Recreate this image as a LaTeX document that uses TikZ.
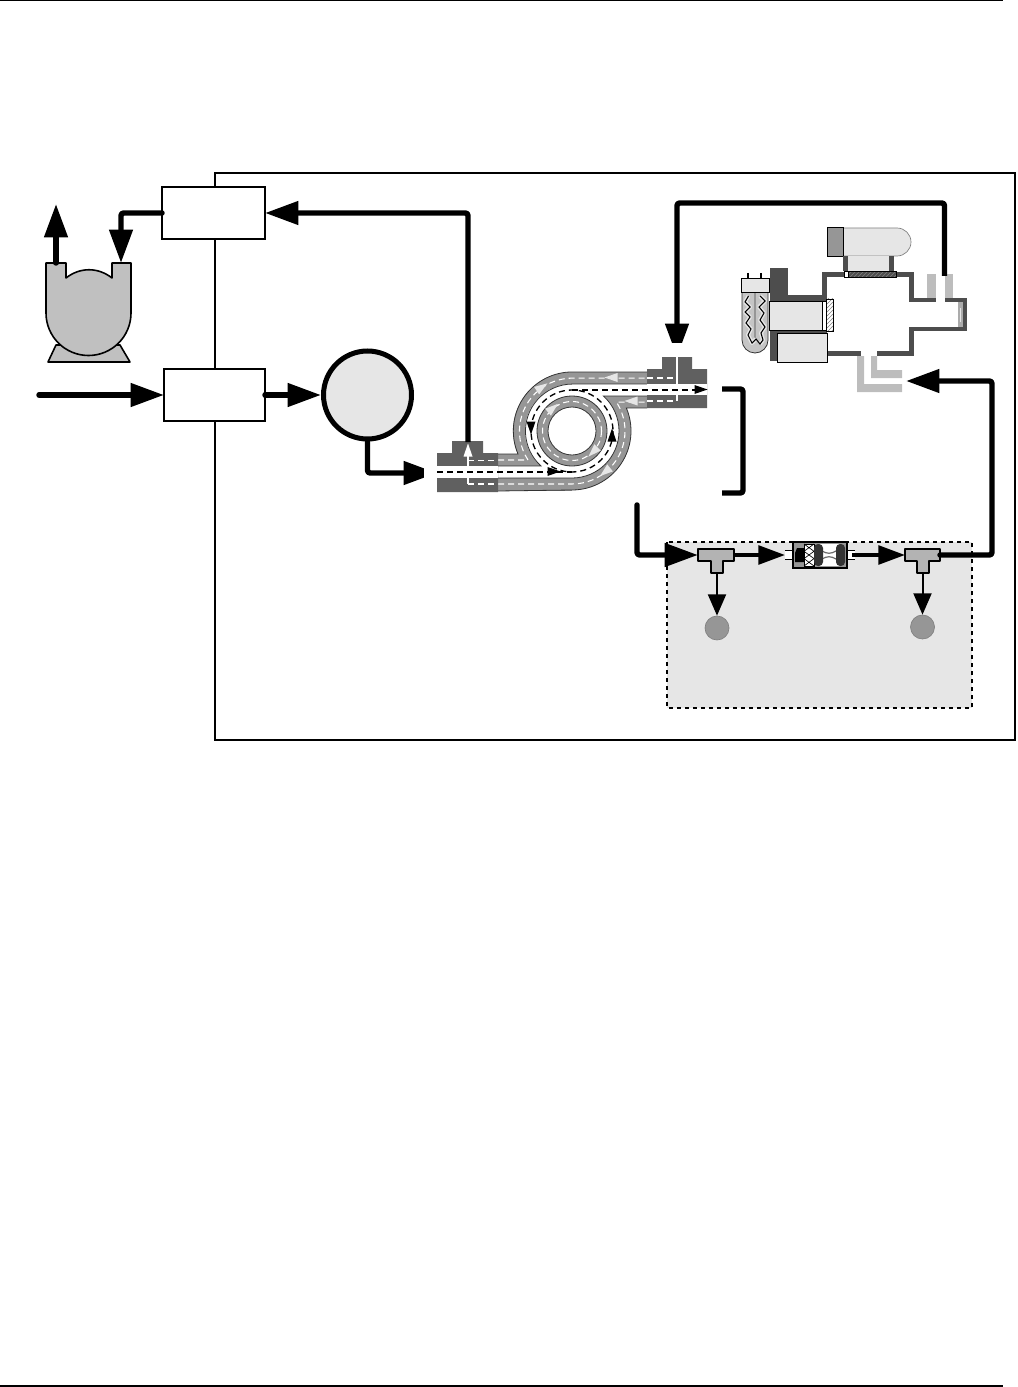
\documentclass[tikz,border=0pt]{standalone}
\usetikzlibrary{arrows.meta,patterns}
\definecolor{lt}{HTML}{E6E6E6}
\definecolor{pumpg}{HTML}{C0C0C0}
\definecolor{coilg}{HTML}{969696}
\definecolor{fitg}{HTML}{606060}
\definecolor{wallg}{HTML}{4D4D4D}
\definecolor{stubg}{HTML}{BDBDBD}
\definecolor{tg}{HTML}{B3B3B3}
\definecolor{edgeg}{HTML}{333333}
\tikzset{
  pipe/.style={line width=4.1pt,line join=round,rounded corners=2pt,line cap=round},
  bighead/.style={-{Triangle[length=25pt,width=17pt]}},
  midhead/.style={-{Triangle[length=20pt,width=14pt]}},
  boxn/.style={draw,fill=white,line width=1.1pt,inner sep=0pt,outer sep=0pt},
  outl/.style={draw=edgeg,line width=.6pt},
  thin pipe/.style={line width=2.8pt,line join=round},
  wdash/.style={draw=white,line width=.8pt,dash pattern=on 4.5pt off 3pt},
  kdash/.style={draw=black,line width=1pt,dash pattern=on 4.5pt off 3pt},
  hatchbox/.style={draw=black,line width=.6pt,pattern=north east lines,pattern color=gray},
}
\newcommand{\flowtip}[4]{\fill[#4,shift={(#1,#2)},rotate=#3] (6.5,0)--(-6.5,4.5)--(-6.5,-4.5)--cycle;}
\begin{document}
\begin{tikzpicture}[x=0.75pt,y=-0.75pt]
\useasboundingbox (0,0) rectangle (1017,1387);
% page rules
\coordinate (ruleTL) at (0,0.6); \coordinate (ruleTR) at (1003,0.6);
\coordinate (ruleBL) at (0,1386); \coordinate (ruleBR) at (1003,1386);
\draw[line width=1.1pt] (ruleTL) -- (ruleTR);
\draw[line width=1.1pt] (ruleBL) -- (ruleBR);
% frame
\draw[line width=1.3pt] (215,173) rectangle (1015,740);
% shaded dashed area
\draw[fill=lt,dashed,line width=.8pt] (667,542) rectangle (972,708);
% boxes
\node[boxn,minimum width=77.25pt,minimum height=39pt] (boxA) at (213.5,213) {};
\node[boxn,minimum width=75.75pt,minimum height=39pt] (boxB) at (214.5,395) {};
% main circle
\node[draw,fill=lt,circle,line width=3.75pt,minimum size=66pt,inner sep=0pt] (ball) at (367.5,395) {};
% pump
\draw[fill=pumpg,line width=1.2pt,line join=round] (56,345) -- (48,362) -- (130,362) -- (120,345) -- cycle;
\draw[fill=pumpg,line width=1.2pt,line join=round] (46,263) -- (66,263) -- (66,278) .. controls (80,267) and (98,267) .. (112,278) -- (112,263) -- (131,263) -- (131,313) arc (0:180:42.5) -- cycle;
\coordinate (pumpOut) at (56,263); \coordinate (pumpOutTip) at (56,204);
\coordinate (pumpIn) at (121,263); \coordinate (elbowA) at (121,213);
% COIL
\begin{scope}
\fill[coilg] (498,454) rectangle (572,491);
\fill[coilg] (572,372) rectangle (647,408);
\fill[coilg] (572,431) circle[radius=59];
\fill[white] (572,431) circle[radius=47];
\fill[white] (498,466) rectangle (572,478);
\fill[white] (572,384) rectangle (707,396);
\draw[outl] (498,491) -- (572,490) arc (90:-23:59) -- (647,408);
\draw[outl] (498,454) -- (518,454) arc (157:270:59) -- (647,372);
\draw[outl] (498,466) -- (541,466) arc (132:270:47) -- (647,384);
\draw[outl] (498,478) -- (572,478) arc (90:-48:47) -- (647,396);
\draw[outl,fill=coilg] (572,431) circle[radius=35];
\draw[outl,fill=white] (572,431) circle[radius=24];
\draw[wdash] (572,431) circle[radius=29.5];
\draw[wdash] (468,484) -- (572,484) arc (90:-33:53) -- (677,402);
\draw[wdash] (468,460) -- (528,460) arc (147:270:53) -- (677,378);
\end{scope}
% fittings
\fill[fitg] (437,453) -- (452,453) -- (452,441) -- (483,441) -- (483,453) -- (498,453) -- (498,492) -- (437,492) -- cycle;
\fill[white] (437,466) rectangle (498,478);
\fill[fitg] (647,369) -- (662,369) -- (662,357) -- (692,357) -- (692,369) -- (707,369) -- (707,408) -- (647,408) -- cycle;
\fill[white] (647,383.5) rectangle (707,395);
\draw[white,line width=.8pt] (468,455) -- (468,466);
\draw[white,line width=.8pt] (468,478) -- (468,484);
\draw[wdash] (468,460.5) -- (498,460.5);
\draw[wdash] (468,484) -- (498,484);
\draw[white,line width=.8pt] (677,357) -- (677,384);
\draw[white,line width=.8pt] (677,395) -- (677,401);
\draw[wdash] (647,378) -- (677,378);
\draw[wdash] (647,401) -- (677,401);
% black dashed centre line
\draw[kdash] (437,472) -- (572,472);
\draw[kdash] (572,431) circle[radius=41];
\draw[kdash] (572,390) -- (700,390);
% flow tips
\flowtip{554}{471.5}{0}{black}
\flowtip{531}{428}{270}{black}
\flowtip{612}{435}{90}{black}
\flowtip{701}{389.5}{0}{black}
\flowtip{468}{450}{90}{white}
\flowtip{611}{377.5}{180}{lt}
\flowtip{631}{401}{180}{lt}
\flowtip{542}{387}{34}{lt}
\flowtip{605}{472}{219}{lt}
\flowtip{553}{408}{40}{lt}
\flowtip{593}{452}{225}{lt}
% bracket
\coordinate (brA) at (722,389); \coordinate (brB) at (743,389);
\coordinate (brC) at (743,493); \coordinate (brD) at (722,493);
\draw[pipe,line cap=butt] (brA) -- (brB) -- (brC) -- (brD);
% T fittings
\draw[fill=tg,line width=1.5pt,line join=round] (698,549) -- (734,549) -- (734,561) -- (723,561) -- (723,573) -- (711,573) -- (711,561) -- (698,561) -- cycle;
\draw[fill=tg,line width=1.5pt,line join=round] (905,549) -- (940,549) -- (940,561) -- (929,561) -- (929,573) -- (917,573) -- (917,561) -- (905,561) -- cycle;
\coordinate (tlW) at (698,555); \coordinate (tlE) at (734,555); \coordinate (tlS) at (717,573);
\coordinate (trW) at (905,555); \coordinate (trE) at (940,555); \coordinate (trS) at (922.5,573);
% small vessels
\node[circle,fill=coilg,draw=gray,line width=.5pt,minimum size=18pt,inner sep=0pt] (vesL) at (717,628) {};
\node[circle,fill=coilg,draw=gray,line width=.5pt,minimum size=18pt,inner sep=0pt] (vesR) at (922.5,627) {};
% filter
\fill[white] (785,551) rectangle (793,559);
\fill[white] (847,551) rectangle (855,559);
\draw[line width=.5pt] (785,550.5) -- (793,550.5) (785,559.5) -- (793,559.5) (847,550.5) -- (855,550.5) (847,559.5) -- (855,559.5);
\node[draw,fill=coilg,line width=.9pt,minimum width=40.5pt,minimum height=19.5pt,inner sep=0pt] (filt) at (820,555) {};
\fill[black] (797,548) -- (804,548) -- (804,562) -- (795,562) -- (795,553) -- cycle;
\draw[fill=white,line width=.5pt] (804,544) rectangle (814,566);
\draw[line width=.5pt] (804,544) -- (814,551.3) -- (804,558.6) -- (814,566) (814,544) -- (804,551.3) -- (814,558.6) -- (804,566);
\fill[white] (818,544) rectangle (841,566);
\draw[coilg!70!black,line width=.9pt] (822,551) .. controls (827,554) and (831,554) .. (836,551);
\draw[coilg!70!black,line width=.9pt] (822,559) .. controls (827,556) and (831,556) .. (836,559);
\fill[edgeg,rounded corners=3pt] (814,544) rectangle (823,566);
\fill[edgeg,rounded corners=3pt] (836,544) rectangle (845,566);
% chamber
\draw[fill=lt,draw=gray,line width=.5pt] (843,228) -- (897,228) arc (270:450:14) -- (843,256) -- cycle;
\draw[fill=coilg,line width=.5pt] (827,227) rectangle (843,256);
\fill[lt] (848,256) rectangle (889,271);
\fill[wallg] (843,256) rectangle (848,271);
\fill[wallg] (889,256) rectangle (894,271);
\fill[stubg] (927,274) rectangle (936,298);
\fill[stubg] (945,274) rectangle (953,298);
\draw[line width=3.6pt,draw=wallg,line join=miter] (860.5,353.5) -- (824.5,353.5) -- (824.5,274.5) -- (911.5,274.5) -- (911.5,300) -- (964.5,300) -- (964.5,329) -- (911.5,329) -- (911.5,353.5) -- (876.5,353.5);
\fill[white] (936,297) rectangle (945,303);
\draw[hatchbox] (848,271.5) rectangle (896,277);
\draw[fill=white,line width=.5pt] (844,271.5) rectangle (848,277);
\fill[coilg!80] (957.5,302) rectangle (962.5,327);
\fill[lt] (959.5,308) rectangle (961,322);
% inlet stubs
\fill[stubg] (857,356) -- (864,356) -- (864,384) -- (902,384) -- (902,392) -- (857,392) -- cycle;
\fill[stubg] (871,356) -- (877,356) -- (877,370) -- (902,370) -- (902,378) -- (871,378) -- cycle;
% lamp housing
\fill[wallg] (770,268) rectangle (788,361);
\fill[wallg] (788,295) rectangle (824,301);
\fill[wallg] (788,329) rectangle (824,334);
\draw[fill=lt,line width=.5pt] (769,301) rectangle (822,330);
\draw[fill=white,line width=.4pt] (822,301) rectangle (826,330);
\draw[hatchbox] (826,299) rectangle (833,331);
\draw[fill=lt,line width=.7pt] (777,333) rectangle (827,362);
% lamp
\draw[fill=coilg!55,draw=edgeg,line width=.6pt] (742,292) -- (742,340) arc (180:0:13) -- (768,292) -- cycle;
\draw[coilg,line width=.9pt] (755,292) -- (755,338);
\def\wigL{(748.5,296) -- (745,302) -- (750,307) -- (745,312) -- (750,317) -- (746,323) -- (751,329) -- (748,335) -- (752,343) -- (756,339)}
\def\wigR{(760,344) -- (763,340) -- (761,333) -- (765,327) -- (760,320) -- (764,313) -- (759,307) -- (765,301) -- (760,296)}
\draw[lt,line width=3pt,line join=round] \wigL;
\draw[lt,line width=3pt,line join=round] \wigR;
\draw[line width=.8pt] \wigL -- \wigR;
\draw[fill=lt,line width=.6pt] (741,278) rectangle (769,292);
\draw[line width=1.5pt] (748,273) -- (748,278);
\draw[line width=1.5pt] (761,273) -- (761,278);
% connectors
\coordinate (inletS) at (39,395);
\coordinate (ballS) at (367.5,441); \coordinate (ballE) at (367.5,473);
\coordinate (fitIn) at (437,473);
\coordinate (fitA) at (468,442); \coordinate (fitAup) at (468,213);
\coordinate (out1) at (637,505); \coordinate (out1b) at (637,555);
\coordinate (filtL) at (785,555); \coordinate (filtR) at (852,555);
\coordinate (ret1) at (992,555); \coordinate (ret2) at (992,381); \coordinate (cellIn) at (906,381);
\coordinate (cellOut) at (944.5,276); \coordinate (cellOut2) at (944.5,203);
\coordinate (cellOut3) at (677,203); \coordinate (fitB) at (677,357);
\draw[pipe,bighead] (pumpOut) -- (pumpOutTip);
\draw[pipe,bighead] (boxA.west) -- (elbowA) -- (pumpIn);
\draw[pipe,bighead] (inletS) -- (boxB.west);
\draw[pipe,bighead] (boxB.east) -- (ball.west);
\draw[pipe,bighead] (ball.south) -- (ballE) -- (fitIn);
\fill[white] (424,460) rectangle (437,486);
\draw[pipe,line cap=butt,bighead] (fitA) -- (fitAup) -- (boxA.east);
\draw[pipe,line cap=butt,bighead] (cellOut) -- (cellOut2) -- (cellOut3) -- (fitB);
\fill[white] (660,343) rectangle (695,357);
\draw[pipe,bighead] (out1) -- (out1b) -- (tlW);
\draw[pipe,bighead] (trE) -- (ret1) -- (ret2) -- (cellIn);
\draw[thin pipe,midhead] (tlE) -- (filtL);
\draw[thin pipe,midhead] (filtR) -- (trW);
\draw[line width=1.5pt,-{Triangle[length=16pt,width=13.5pt]}] (tlS) -- (vesL.north);
\draw[line width=1.5pt,-{Triangle[length=16pt,width=13.5pt]}] (trS) -- (vesR.north);
\end{tikzpicture}
\end{document}
